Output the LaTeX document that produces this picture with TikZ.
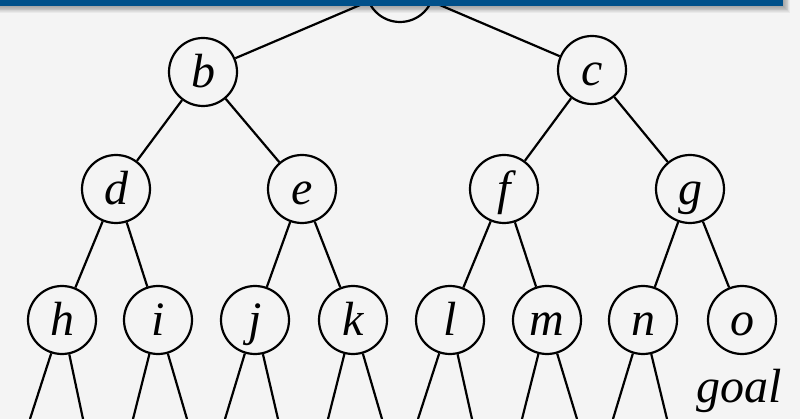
\documentclass[tikz,border=0pt]{standalone}
\usepackage{fontspec}
\setmainfont{Liberation Serif}
\definecolor{slidebg}{HTML}{F4F4F4}
\definecolor{barblue}{HTML}{00508A}
\tikzset{
  treenode/.style={circle, draw, line width=2.2pt, minimum size=68pt, inner sep=0pt,
    font=\fontsize{48}{48}\selectfont\itshape, text height=34pt, text depth=2pt},
  edge/.style={line width=2.2pt}
}
\begin{document}
\begin{tikzpicture}[x=1pt, y=-1pt]
\fill[slidebg] (0,0) rectangle (800,419);
\useasboundingbox (0,0) rectangle (800,419);
% the tree
\node[treenode] (a) at (400,-12) {};
\node[treenode] (b) at (203,72) {b};
\node[treenode] (c) at (592,70) {c};
\node[treenode] (d) at (116,189) {d};
\node[treenode] (e) at (302,189) {e};
\node[treenode] (f) at (504,189) {f};
\node[treenode] (g) at (690,189) {g};
\node[treenode] (h) at (62,320) {h};
\node[treenode] (i) at (158,320) {i};
\node[treenode] (j) at (255,320) {j};
\node[treenode] (k) at (353,320) {k};
\node[treenode] (l) at (450,320) {l};
\node[treenode] (m) at (547,320) {m};
\node[treenode] (n) at (643,320) {n};
\node[treenode] (o) at (742,320) {o};
\node[font=\fontsize{48}{48}\selectfont\itshape, anchor=base, inner sep=0pt] (goal) at (739,402) {goal};
\draw[edge] (a) -- (b);
\draw[edge] (a) -- (c);
\draw[edge] (b) -- (d);
\draw[edge] (b) -- (e);
\draw[edge] (c) -- (f);
\draw[edge] (c) -- (g);
\draw[edge] (d) -- (h);
\draw[edge] (d) -- (i);
\draw[edge] (e) -- (j);
\draw[edge] (e) -- (k);
\draw[edge] (f) -- (l);
\draw[edge] (f) -- (m);
\draw[edge] (g) -- (n);
\draw[edge] (g) -- (o);
% branches running off the bottom
\foreach \v/\dl/\dr in {h/-32/21, i/-25/29, j/-30/23, k/-25/29, l/-32/22, m/-25/30, n/-30/24} {
  \path (\v) ++(\dl,99) coordinate (\v-left);
  \path (\v) ++(\dr,99) coordinate (\v-right);
  \draw[edge] (\v) -- (\v-left);
  \draw[edge] (\v) -- (\v-right);
}
% title bar with its shadow
\foreach \s in {1,...,8}
  \fill[black, opacity=0.045] (0,0) rectangle (783+0.9*\s, 6+0.9*\s);
\fill[barblue] (0,0) rectangle (783,6);
\end{tikzpicture}
\end{document}
